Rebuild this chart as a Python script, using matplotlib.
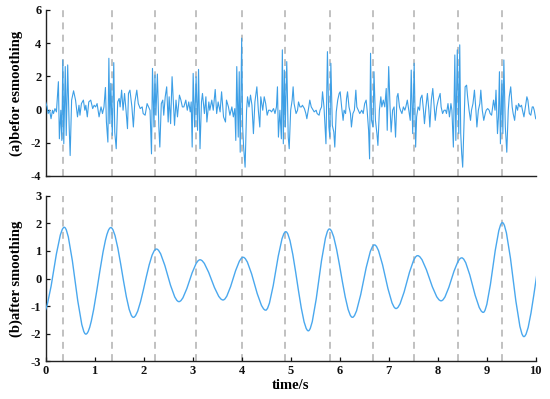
import matplotlib
matplotlib.use("Agg")
import matplotlib.pyplot as plt
from matplotlib.path import Path
from matplotlib.patches import PathPatch

# ---- data ----
event_times = [0.36, 1.35, 2.23, 3.07, 4.01, 4.89, 5.81, 6.69, 7.52, 8.42, 9.32]

raw_t = [0.00, 0.03, 0.05, 0.08, 0.11, 0.14, 0.16, 0.19, 0.22, 0.26, 0.28, 0.31, 0.33, 0.35, 0.37, 0.40,
         0.42, 0.45, 0.48, 0.50, 0.53, 0.57, 0.61, 0.65, 0.68, 0.70, 0.73, 0.77, 0.80, 0.82, 0.85, 0.88,
         0.92, 0.96, 0.99, 1.02, 1.05, 1.09, 1.13, 1.16, 1.19, 1.22, 1.24, 1.27, 1.29, 1.31, 1.33, 1.36,
         1.39, 1.41, 1.44, 1.47, 1.50, 1.52, 1.55, 1.58, 1.61, 1.64, 1.67, 1.69, 1.72, 1.76, 1.79, 1.82,
         1.86, 1.89, 1.93, 1.97, 1.99, 2.03, 2.07, 2.10, 2.13, 2.16, 2.18, 2.21, 2.23, 2.25, 2.28, 2.31,
         2.33, 2.36, 2.39, 2.41, 2.44, 2.47, 2.50, 2.52, 2.55, 2.58, 2.61, 2.63, 2.66, 2.69, 2.73, 2.76,
         2.79, 2.82, 2.86, 2.89, 2.92, 2.95, 2.97, 2.99, 3.01, 3.04, 3.07, 3.10, 3.12, 3.15, 3.18, 3.20,
         3.24, 3.27, 3.29, 3.33, 3.35, 3.39, 3.42, 3.46, 3.49, 3.52, 3.56, 3.59, 3.63, 3.67, 3.69, 3.73,
         3.76, 3.80, 3.83, 3.86, 3.88, 3.90, 3.93, 3.95, 3.97, 4.00, 4.02, 4.04, 4.07, 4.10, 4.12, 4.15,
         4.18, 4.21, 4.24, 4.27, 4.31, 4.34, 4.37, 4.39, 4.43, 4.46, 4.49, 4.52, 4.55, 4.58, 4.61, 4.65,
         4.68, 4.71, 4.73, 4.75, 4.78, 4.81, 4.83, 4.85, 4.87, 4.89, 4.92, 4.95, 4.97, 5.00, 5.03, 5.05,
         5.07, 5.11, 5.14, 5.16, 5.19, 5.22, 5.24, 5.28, 5.31, 5.33, 5.37, 5.39, 5.42, 5.46, 5.48, 5.52,
         5.54, 5.58, 5.60, 5.63, 5.65, 5.68, 5.70, 5.72, 5.75, 5.78, 5.80, 5.82, 5.85, 5.88, 5.90, 5.93,
         5.96, 5.99, 6.01, 6.04, 6.07, 6.09, 6.12, 6.14, 6.16, 6.19, 6.22, 6.24, 6.27, 6.30, 6.33, 6.35,
         6.38, 6.41, 6.45, 6.48, 6.51, 6.54, 6.56, 6.59, 6.61, 6.63, 6.65, 6.68, 6.70, 6.73, 6.76, 6.78,
         6.81, 6.84, 6.86, 6.89, 6.92, 6.95, 6.97, 7.00, 7.03, 7.05, 7.08, 7.11, 7.14, 7.17, 7.19, 7.22,
         7.24, 7.27, 7.30, 7.33, 7.35, 7.38, 7.41, 7.44, 7.46, 7.49, 7.52, 7.55, 7.57, 7.60, 7.63, 7.65,
         7.68, 7.71, 7.73, 7.76, 7.79, 7.82, 7.84, 7.87, 7.90, 7.93, 7.95, 7.98, 8.01, 8.05, 8.07, 8.10,
         8.13, 8.16, 8.18, 8.21, 8.24, 8.27, 8.29, 8.32, 8.35, 8.37, 8.40, 8.43, 8.45, 8.47, 8.49, 8.51,
         8.54, 8.56, 8.59, 8.61, 8.64, 8.67, 8.69, 8.72, 8.75, 8.78, 8.80, 8.83, 8.86, 8.88, 8.91, 8.94,
         8.97, 8.99, 9.02, 9.05, 9.07, 9.10, 9.14, 9.17, 9.19, 9.22, 9.24, 9.26, 9.28, 9.31, 9.33, 9.35,
         9.38, 9.41, 9.44, 9.46, 9.49, 9.52, 9.54, 9.57, 9.60, 9.63, 9.65, 9.68, 9.71, 9.73, 9.76, 9.79,
         9.82, 9.84, 9.87, 9.90, 9.93, 9.95, 9.97, 10.00]

raw_v = [0.46, 0.16, -0.24, -0.04, -0.55, -0.04, -0.24, 0.06, -0.14, 1.68, -1.76, -0.04, -1.86, 2.99, -2.06, 2.59,
         -1.56, 2.69, -1.05, -2.77, 0.57, 1.13, 0.57, -0.44, 0.26, -0.34, 0.36, 0.57, -0.04, 0.26, -0.44, 0.46,
         0.57, 0.06, 0.26, 0.16, 0.36, -0.44, 0.16, -0.24, 0.16, 1.33, -0.75, -1.96, 3.09, -0.85, 1.58, -1.56,
         2.83, -1.35, -2.36, 0.46, 0.67, 0.16, 1.17, -0.04, 0.97, -0.04, -1.15, 0.97, 1.17, 0.16, -1.05, 0.46,
         1.17, 0.36, 0.06, 0.16, -0.24, -0.34, 0.36, 0.16, -0.04, -2.67, 2.48, -1.05, 2.08, -0.34, 2.14, -1.05,
         -2.26, 0.36, 0.57, -0.34, 0.77, 1.37, -0.75, 0.77, -0.85, 1.98, 0.16, -0.95, 0.57, -0.44, 0.87, 0.57,
         0.16, 0.16, 0.57, -0.04, 0.46, -0.14, 0.46, -2.26, 2.18, -1.05, 1.98, -1.25, 2.42, -2.36, 0.46, 0.97,
         -0.24, 0.77, -0.75, 0.46, -0.04, 0.57, -0.04, 1.21, -0.24, 0.46, -0.14, 1.07, -0.44, -0.75, 0.57, 0.16,
         -0.34, 0.16, -0.44, 0.06, -1.86, 2.59, -1.66, 2.28, -2.57, 4.30, -1.05, -2.26, -3.47, -0.04, 0.77, 0.16,
         0.87, 0.26, -1.45, 0.46, 1.37, -0.04, -1.05, 0.77, -0.04, 0.77, 0.36, -0.34, -0.04, -0.04, -0.14, 0.06,
         -0.24, 0.16, 1.37, -1.66, -0.04, -1.76, 3.60, -2.06, 2.38, -1.05, 2.89, -1.66, -2.36, -0.04, 0.57, 1.37,
         0.36, -0.24, -0.04, 0.46, 0.16, 0.16, 0.26, 0.06, -0.24, -0.55, 0.16, 0.57, 0.16, -0.04, -0.14, -0.04,
         -0.24, -0.34, -0.04, 0.16, 1.07, 0.16, -0.95, -2.06, 3.49, -1.05, -1.66, 2.79, -0.95, -1.35, -2.26, -0.14,
         0.57, 0.97, 1.07, 0.16, -0.65, -0.04, -0.24, 0.67, 1.07, 0.16, -0.24, -1.05, -0.24, -0.04, 1.17, 0.16,
         -0.04, -0.24, -0.04, -0.24, 0.36, 0.57, -0.04, -1.25, -2.97, 3.39, -0.65, -1.05, 2.28, -0.65, -1.45, -2.16,
         -0.04, 0.77, 0.16, 0.57, 0.16, 1.27, -1.25, 2.59, -0.04, -1.35, -0.04, 0.16, -1.66, 0.77, 0.97, 0.16,
         -0.04, -0.24, 0.16, -0.04, 0.16, 0.57, -0.04, -0.65, 2.38, -1.45, 2.79, -2.26, -0.44, 0.16, -0.04, 0.67,
         0.87, -0.04, -0.85, 0.16, 0.97, -0.04, -1.05, 0.57, 1.27, 0.16, -0.65, 0.16, 0.57, 0.97, 0.16, -0.24,
         -0.04, -0.04, -0.24, 0.36, -0.44, 0.36, -0.04, -2.26, 3.29, -1.86, 3.60, -1.45, 3.90, -1.45, -2.67, -3.47,
         -0.65, 1.37, 1.47, 0.77, -0.04, -0.65, -0.04, 0.36, 1.17, -0.04, -1.05, -0.04, 0.36, 1.17, -0.04, -0.65,
         -0.24, -0.04, 0.06, -0.04, -0.24, -0.34, 0.57, -0.04, 1.17, -1.45, -0.44, 2.28, -2.06, 1.78, -1.45, 2.99,
         -1.05, -2.57, -0.04, 0.77, 1.37, 0.16, -0.24, -0.65, 0.26, -0.04, 0.36, 0.16, 0.26, -0.04, -0.44, 0.16,
         0.77, 0.57, -0.24, -0.34, 0.16, 0.16, -0.04, -0.55]

# smoothed signal: successive extrema (time, value); first/last lie just outside the view
smooth_ext_t = [-0.05, 0.38, 0.82, 1.33, 1.79, 2.26, 2.72, 3.15, 3.62, 4.03, 4.49, 4.90,
                5.36, 5.79, 6.26, 6.71, 7.15, 7.59, 8.07, 8.49, 8.93, 9.32, 9.76, 10.22]
smooth_ext_v = [-1.25, 1.86, -2.02, 1.85, -1.41, 1.07, -0.84, 0.68, -0.78, 0.77, -1.15, 1.70,
                -1.90, 1.80, -1.41, 1.22, -1.09, 0.83, -0.81, 0.75, -1.23, 2.03, -2.11, 1.60]

top_yticks = [-4, -2, 0, 2, 4, 6]
bot_yticks = [-3, -2, -1, 0, 1, 2, 3]
xticks = list(range(0, 11))

# ---- style ----
line_color = '#3d9fe6'
smooth_color = '#4aa8ee'
font = 'Liberation Serif'
plt.rcParams['font.family'] = [font, 'DejaVu Serif']
plt.rcParams['font.weight'] = 'bold'
plt.rcParams['axes.unicode_minus'] = False

fig = plt.figure(figsize=(5.5, 3.99), dpi=100)
ax1 = fig.add_axes([0.083, 0.559, 0.891, 0.416])
ax2 = fig.add_axes([0.083, 0.095, 0.891, 0.414])

for ax in (ax1, ax2):
    for s in ('top', 'right'):
        ax.spines[s].set_visible(False)
    for s in ('left', 'bottom'):
        ax.spines[s].set_linewidth(1.0)
        ax.spines[s].set_color('#222222')
    for et in event_times:
        ax.axvline(et, color='#b0b0b0', lw=1.1, ls=(0, (4.5, 3.5)), zorder=1)
    ax.set_xlim(0, 10)
    ax.tick_params(direction='in', length=3, width=0.9, labelsize=9, colors='#111111', pad=3)

ax1.plot(raw_t, raw_v, color=line_color, lw=0.8, zorder=3)
ax1.set_ylim(-4, 6)
ax1.set_yticks(top_yticks)
ax1.set_xticks([])
ax1.set_ylabel('(a)befor esmoothing', fontsize=10.5, fontweight='bold', labelpad=6)

# smooth path through extrema using cubic Bezier segments
verts = [(smooth_ext_t[0], smooth_ext_v[0])]
codes = [Path.MOVETO]
for i in range(len(smooth_ext_t) - 1):
    t0, t1 = smooth_ext_t[i], smooth_ext_t[i + 1]
    v0, v1 = smooth_ext_v[i], smooth_ext_v[i + 1]
    dt = t1 - t0
    verts += [(t0 + dt / 3, v0), (t0 + 2 * dt / 3, v1), (t1, v1)]
    codes += [Path.CURVE4] * 3
patch = PathPatch(Path(verts, codes), facecolor='none', edgecolor=smooth_color, lw=1.0, zorder=3)
ax2.add_patch(patch)
ax2.set_ylim(-3, 3)
ax2.set_yticks(bot_yticks)
ax2.set_xticks(xticks)
ax2.set_ylabel('(b)after smoothing', fontsize=10.5, fontweight='bold', labelpad=6)
ax2.set_xlabel('time/s', fontsize=10.5, fontweight='bold', labelpad=1)

for ax in (ax1, ax2):
    for lab in ax.get_xticklabels() + ax.get_yticklabels():
        lab.set_fontweight('bold')

fig.savefig('out.png', dpi=100)
